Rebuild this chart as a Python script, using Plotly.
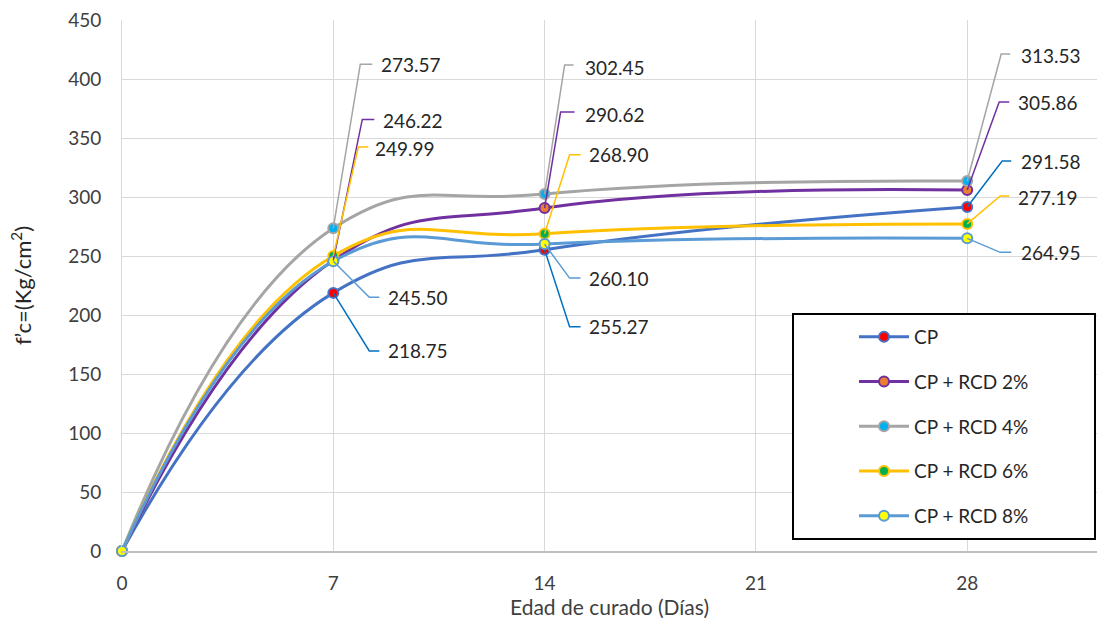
import plotly.graph_objects as go

# ---------------- data ----------------
dias = [0, 7, 14, 28]
series_names = ["CP", "CP + RCD 2%", "CP + RCD 4%", "CP + RCD 6%", "CP + RCD 8%"]
cp = [0, 218.75, 255.27, 291.58]
rcd2 = [0, 246.22, 290.62, 305.86]
rcd4 = [0, 273.57, 302.45, 313.53]
rcd6 = [0, 249.99, 268.90, 277.19]
rcd8 = [0, 245.50, 260.10, 264.95]
x_ticks = [0, 7, 14, 21, 28]
y_ticks = [0, 50, 100, 150, 200, 250, 300, 350, 400, 450]

# ---------------- styles ----------------
line_colors = ["#4472C4", "#7030A0", "#A5A5A5", "#FFC000", "#5B9BD5"]
marker_fill = ["#FF0000", "#ED7D31", "#00B0F0", "#00B050", "#FFFF00"]
leader_colors = ["#0070C0", "#7030A0", "#A5A5A5", "#FFC000", "#5B9BD5"]
# label offsets in pixels per series per point index: (dx, dy, h, tx, ty)
label_offsets = {
    0: {1: (36, -58, 10, 53, -58), 2: (25, -77, 11, 42, -77), 3: (35, 46, 9, 52, 45)},
    1: {1: (29, 141, 12, 48, 140), 2: (16, 96, 14, 38, 94), 3: (32, 88, 10, 49, 88)},
    2: {1: (27, 164, 12, 46, 164), 2: (20, 129, 9, 38, 127), 3: (34, 127, 9, 52, 126)},
    3: {1: (25, 109, 10, 40, 108), 2: (25, 79, 11, 42, 79), 3: (33, 28, 9, 49, 26)},
    4: {1: (36, -36, 10, 53, -36), 2: (25, -34, 11, 42, -34), 3: (33, -14, 11, 52, -14)},
}

FONT = "Lato, 'Open Sans', sans-serif"
all_series = [cp, rcd2, rcd4, rcd6, rcd8]

fig = go.Figure()
for i, (name, vals) in enumerate(zip(series_names, all_series)):
    fig.add_trace(go.Scatter(
        x=dias, y=vals, name=name, mode="lines+markers",
        line=dict(color=line_colors[i], width=3, shape="spline", smoothing=1.3),
        marker=dict(size=10, color=marker_fill[i], line=dict(color=line_colors[i], width=2)),
        legendgroup=f"g{i}",
        cliponaxis=False,
    ))

shapes = []
annotations = []
for i, vals in enumerate(all_series):
    for j, offs in label_offsets[i].items():
        dx, dy, h, tx, ty = offs
        shapes.append(dict(
            type="path", xref="x", yref="y",
            xsizemode="pixel", ysizemode="pixel",
            xanchor=dias[j], yanchor=vals[j],
            path=f"M0,0 L{dx},{dy} L{dx + h},{dy}",
            line=dict(color=leader_colors[i], width=1.5),
            layer="above",
        ))
        annotations.append(dict(
            x=dias[j], y=vals[j], xref="x", yref="y",
            text=f"{vals[j]:.2f}", showarrow=False,
            xanchor="left", yanchor="middle",
            xshift=tx, yshift=ty,
            font=dict(family=FONT, size=19, color="#262626"),
        ))

# legend box
shapes.append(dict(
    type="rect", xref="paper", yref="paper",
    x0=(793 - 122) / 975, x1=(1095 - 122) / 975,
    y0=(551 - 539) / 531, y1=(551 - 314) / 531,
    fillcolor="white", line=dict(color="black", width=2), layer="above",
))

fig.update_layout(
    width=1109, height=625,
    margin=dict(l=122, r=12, t=20, b=74),
    paper_bgcolor="white", plot_bgcolor="white",
    font=dict(family=FONT, size=19, color="#404040"),
    shapes=shapes, annotations=annotations,
    legend=dict(
        x=(854 - 122) / 975, y=(551 - 318) / 531, xanchor="left", yanchor="top",
        bgcolor="rgba(0,0,0,0)", borderwidth=0,
        font=dict(family=FONT, size=19, color="#262626"),
        tracegroupgap=17, itemwidth=50,
    ),
    showlegend=True,
)
fig.update_xaxes(
    range=[0, 32.3], tickvals=x_ticks, showgrid=True, gridcolor="#D9D9D9", gridwidth=1,
    showline=True, linecolor="#BFBFBF", linewidth=2, zeroline=False, automargin=False,
    ticks="outside", ticklen=14, tickcolor="rgba(0,0,0,0)",
    tickfont=dict(family=FONT, size=19, color="#404040"),
    title=dict(text="Edad de curado (Días)", standoff=4,
               font=dict(family=FONT, size=21, color="#404040")),
)
fig.update_yaxes(
    range=[0, 450], tickvals=y_ticks, showgrid=True, gridcolor="#D9D9D9", gridwidth=1,
    showline=True, linecolor="#D9D9D9", linewidth=1, zeroline=False, automargin=False,
    ticks="outside", ticklen=16, tickcolor="rgba(0,0,0,0)",
    tickfont=dict(family=FONT, size=19, color="#404040"),
    title=dict(text="f’c=(Kg/cm<sup>2</sup>)", standoff=30,
               font=dict(family=FONT, size=22, color="#262626")),
)

fig.write_html("out.html")
